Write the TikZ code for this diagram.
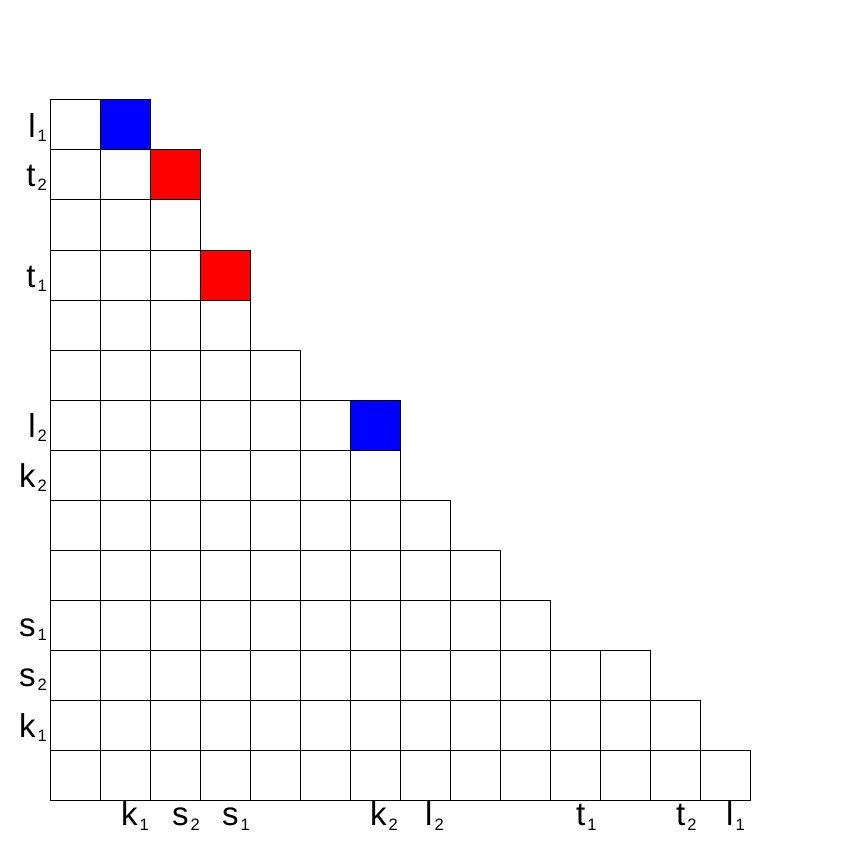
\documentclass[tikz,border=0pt]{standalone}
\usepackage{fontspec}
\setmainfont{Liberation Sans}
\newcommand\mylab[2]{#1\kern2pt\raisebox{-4pt}{\fontsize{16.5}{16.5}\selectfont #2}}
\newcommand\mylabb[2]{#1\kern2pt\raisebox{-5pt}{\fontsize{16.5}{16.5}\selectfont #2}}
\begin{document}
\begin{tikzpicture}[x=1pt,y=-1pt,
  cell/.style={draw=black,line width=1pt},
  lab/.style={inner sep=0pt,font=\fontsize{33}{33}\selectfont}]
\useasboundingbox (0,0) rectangle (850,850);
% coloured cells
\fill[blue] (100,100) rectangle +(50,50);
\fill[red] (150,150) rectangle +(50,50);
\fill[red] (200,250) rectangle +(50,50);
\fill[blue] (350,400) rectangle +(50,50);
% grid
\foreach \r/\n in {0/2,1/3,2/3,3/4,4/4,5/5,6/7,7/7,8/8,9/9,10/10,11/12,12/13,13/14} {
  \foreach \c in {1,...,\n} {
    \draw[cell] ({50+50*(\c-1)},{100+50*\r}) rectangle +(50,50);
  }
}
% left labels
\node[lab,anchor=base east] (yl1) at (47,138) {\mylab{l}{1}};
\node[lab,anchor=base east] (yt2) at (47,187) {\mylab{t}{2}};
\node[lab,anchor=base east] (yt1) at (47,287) {\mylab{t}{1}};
\node[lab,anchor=base east] (yl2) at (47,437) {\mylab{l}{2}};
\node[lab,anchor=base east] (yk2) at (47,487) {\mylab{k}{2}};
\node[lab,anchor=base east] (ys1) at (47,636) {\mylab{s}{1}};
\node[lab,anchor=base east] (ys2) at (47,686) {\mylab{s}{2}};
\node[lab,anchor=base east] (yk1) at (47,737) {\mylab{k}{1}};
% bottom labels
\node[lab,anchor=base west] (xk1) at (121,825) {\mylabb{k}{1}};
\node[lab,anchor=base west] (xs2) at (172,825) {\mylabb{s}{2}};
\node[lab,anchor=base west] (xs1) at (222,825) {\mylabb{s}{1}};
\node[lab,anchor=base west] (xk2) at (370,825) {\mylabb{k}{2}};
\node[lab,anchor=base west] (xl2) at (425,825) {\mylabb{l}{2}};
\node[lab,anchor=base west] (xt1) at (576,825) {\mylabb{t}{1}};
\node[lab,anchor=base west] (xt2) at (676,825) {\mylabb{t}{2}};
\node[lab,anchor=base west] (xl1) at (726,825) {\mylabb{l}{1}};
\end{tikzpicture}
\end{document}
